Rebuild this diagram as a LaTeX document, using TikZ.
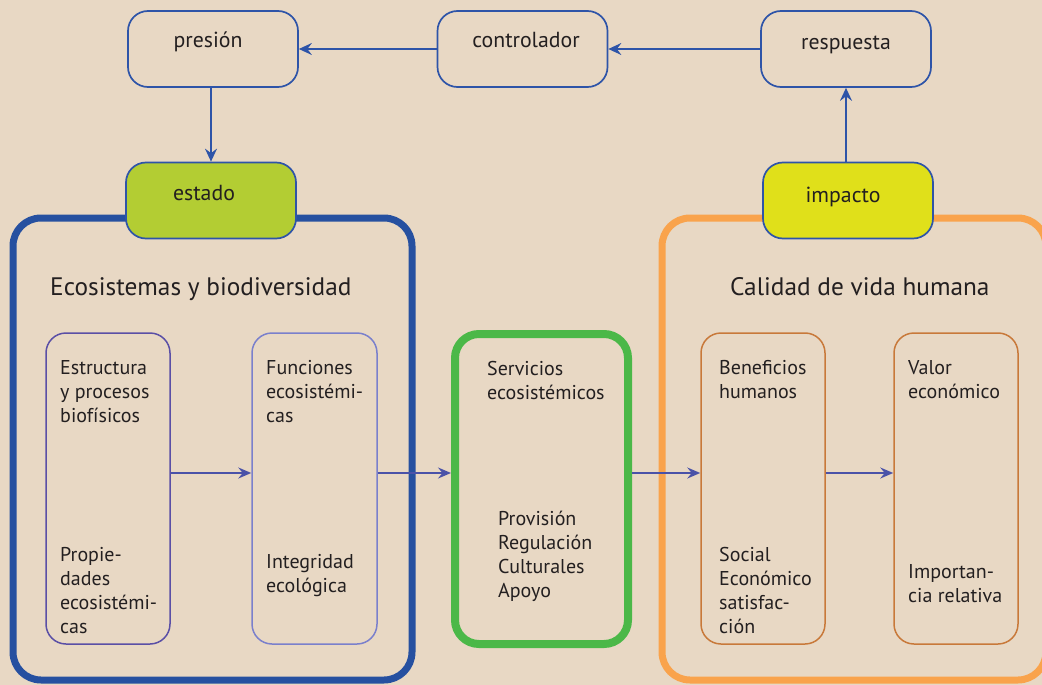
\documentclass[tikz,border=0pt]{standalone}
\usepackage{fontspec}
\setmainfont{PT Sans}
\usetikzlibrary{arrows.meta}
\definecolor{bg}{HTML}{E8D8C4}
\definecolor{txt}{HTML}{231F20}
\definecolor{bigblue}{HTML}{2650A0}
\definecolor{topblue}{HTML}{2E54A8}
\definecolor{estadofill}{HTML}{B3CD33}
\definecolor{impactofill}{HTML}{E0E01A}
\definecolor{greenbox}{HTML}{4BB848}
\definecolor{bigorange}{HTML}{F9A34C}
\definecolor{innerpurple}{HTML}{5A4FA6}
\definecolor{innerlight}{HTML}{7A80CC}
\definecolor{innerorange}{HTML}{C8793A}
\definecolor{innerarrow}{HTML}{4A52A8}
\begin{document}
\begin{tikzpicture}[x=1pt,y=-1pt,
  topbox/.style={draw=topblue, line width=1.7pt, rounded corners=20pt, minimum width=170pt, minimum height=76pt, inner sep=0pt},
  toptext/.style={anchor=base, inner sep=0pt, text=txt, font=\fontsize{21.8}{26}\selectfont},
  bigbox/.style={line width=7pt, rounded corners=28pt, inner sep=0pt, minimum height=462pt},
  innerbox/.style={line width=1.5pt, rounded corners=20pt, inner sep=0pt, minimum height=311pt},
  boxtext/.style={anchor=north west, inner sep=0pt, align=left, text=txt, font=\fontsize{20}{24}\selectfont, execute at begin node={\rule{0pt}{15pt}}},
  heading/.style={anchor=base west, inner sep=0pt, text=txt, font=\fontsize{25.3}{30}\selectfont},
  toparrow/.style={draw=topblue, line width=1.7pt, -{Stealth[length=13pt,width=12pt,inset=4.5pt]}},
  innerarr/.style={draw=innerarrow, line width=1.5pt, -{Stealth[length=13pt,width=11pt,inset=4.5pt]}}
]
\fill[bg] (0,0) rectangle (1042,685);
\useasboundingbox (0,0) rectangle (1042,685);

% big containers
\node[bigbox, draw=bigblue, minimum width=399pt] (eco) at (212.5,449) {};
\node[bigbox, draw=bigorange, minimum width=384pt] (cal) at (854,449) {};

% top row
\node[topbox] (presion) at (213,49) {};
\node[toptext] (tpresion) at (208,48) {presión};
\node[topbox] (controlador) at (522.5,49) {};
\node[toptext] (tcontrolador) at (526,48) {controlador};
\node[topbox] (respuesta) at (846,49) {};
\node[toptext] (trespuesta) at (846,50) {respuesta};

\node[topbox, fill=estadofill] (estado) at (211,200.5) {};
\node[toptext] (testado) at (204,200) {estado};
\node[topbox, fill=impactofill] (impacto) at (848,200.5) {};
\node[toptext] (timpacto) at (843,202) {impacto};

\draw[toparrow] (respuesta.west) -- (controlador.east);
\draw[toparrow] (controlador.west) -- (presion.east);
\draw[toparrow] (presion.south -| estado.north) -- (estado.north);
\draw[toparrow] (impacto.north -| respuesta.south) -- (respuesta.south);

% headings
\node[heading] (h1) at (50,295.5) {Ecosistemas y biodiversidad};
\node[heading] (h2) at (730,295.5) {Calidad de vida humana};

% inner boxes
\node[innerbox, draw=innerpurple, minimum width=124pt] (b1) at (108,488.5) {};
\node[innerbox, draw=innerlight, minimum width=125pt] (b2) at (314.5,488.5) {};
\node[draw=greenbox, line width=8pt, rounded corners=24pt, inner sep=0pt, minimum width=173pt, minimum height=310pt] (serv) at (541.5,489) {};
\node[innerbox, draw=innerorange, minimum width=124pt] (ben) at (763,488.5) {};
\node[innerbox, draw=innerorange, minimum width=124pt] (val) at (956,488.5) {};

% texts
\node[boxtext] (t1a) at (60,360) {Estructura\\y procesos\\biofísicos};
\node[boxtext] (t1b) at (60,547) {Propie-\\dades\\ecosistémi-\\cas};
\node[boxtext] (t2a) at (266,360) {Funciones\\ecosistémi-\\cas};
\node[boxtext] (t2b) at (266,554) {Integridad\\ecológica};
\node[boxtext] (t3a) at (487,361) {Servicios\\ecosistémicos};
\node[boxtext] (t3b) at (498,511) {Provisión\\Regulación\\Culturales\\Apoyo};
\node[boxtext] (t4a) at (719,360) {Beneficios\\humanos};
\node[boxtext] (t4b) at (719,547) {Social\\Económico\\satisfac-\\ción};
\node[boxtext] (t5a) at (908,360) {Valor\\económico};
\node[boxtext] (t5b) at (908,564) {Importan-\\cia relativa};

% inner arrows
\coordinate (mid) at (0,473);
\draw[innerarr] (b1.east |- mid) -- (b2.west |- mid);
\draw[innerarr] (b2.east |- mid) -- (serv.west |- mid);
\draw[innerarr] (serv.east |- mid) -- (ben.west |- mid);
\draw[innerarr] (ben.east |- mid) -- (val.west |- mid);
\end{tikzpicture}
\end{document}
